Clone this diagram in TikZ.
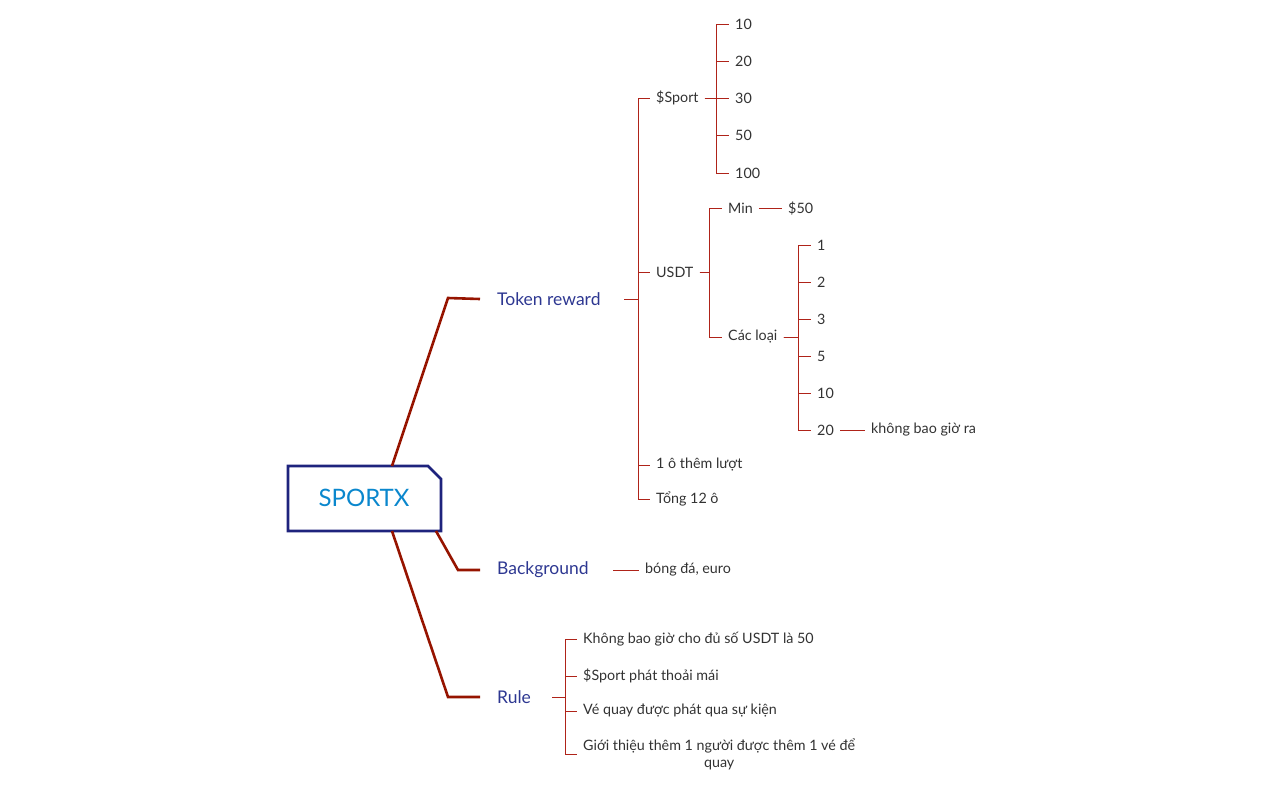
\documentclass[tikz,border=0pt]{standalone}
\usepackage{fontspec}
\setmainfont{Lato}
\definecolor{navy}{RGB}{30,35,125}
\definecolor{topic}{RGB}{45,55,145}
\definecolor{sky}{RGB}{10,135,205}
\definecolor{branch}{RGB}{150,20,0}
\definecolor{twig}{RGB}{175,35,25}
\definecolor{leaftext}{RGB}{50,50,50}
\begin{document}
\begin{tikzpicture}[x=1pt,y=-1pt,
	main/.style={anchor=west,inner sep=0pt,text=topic,font=\fontsize{17.5}{19}\selectfont},
	leaf/.style={anchor=west,inner xsep=6pt,inner ysep=2pt,text=leaftext,font=\fontsize{14.3}{17}\selectfont},
	thick branch/.style={draw=branch,line width=2.6pt},
	twig line/.style={draw=twig,line width=0.9pt}]
	\useasboundingbox (0,0) rectangle (1273,788);
	% root
	\draw[navy,line width=2.6pt] (288,466) -- (428,466) -- (441,479) -- (441,531) -- (288,531) -- cycle;
	\node[text=sky,font=\fontsize{24}{26}\selectfont] (root) at (364,498) {SPORTX};
	\coordinate (rtop) at (392,466);
	\coordinate (rbr) at (436,531);
	\coordinate (rbot) at (392,531);
	% main topics
	\node[main] (tok) at (497,299) {Token reward};
	\node[main] (bg) at (497,570) {Background};
	\node[main] (rule) at (497,697) {Rule};
	\draw[thick branch] (rtop) -- (448,298) -- ([xshift=-17]tok.west);
	\draw[thick branch] (rbr) -- (458,570) -- ([xshift=-17]bg.west);
	\draw[thick branch] (rbot) -- (448,697) -- ([xshift=-17]rule.west);
	% Token reward
	\coordinate (tokstub) at (624,299);
	\coordinate (tokbus) at (638,299);
	\node[leaf] (sp) at (650,98) {\$Sport};
	\node[leaf] (usdt) at (650,272) {USDT};
	\node[leaf] (extra) at (650,465) {1 ô thêm lượt};
	\node[leaf] (total) at (650,499) {Tổng 12 ô};
	\foreach \c in {sp,usdt,extra,total}
		\draw[twig line] (tokstub) -- (tokbus) |- (\c.west);
	\coordinate (spbus) at (716,98);
	\foreach \v [count=\i] in {10,20,30,50,100}
		\node[leaf] (s\i) at (729,24+37.25*\i-37.25) {\v};
	\foreach \i in {1,...,5}
		\draw[twig line] (sp.east) -- (spbus) |- (s\i.west);
	\coordinate (usdtbus) at (709,272);
	\node[leaf] (min) at (722,208) {Min};
	\node[leaf] (kinds) at (722,337) {Các loại};
	\foreach \c in {min,kinds}
		\draw[twig line] (usdt.east) -- (usdtbus) |- (\c.west);
	\node[leaf] (m50) at (782,208) {\$50};
	\draw[twig line] (min.east) -- (m50.west);
	\coordinate (kindbus) at (798,337);
	\foreach \v [count=\i] in {1,2,3,5,10,20}
		\node[leaf] (k\i) at (811,245+37*\i-37) {\v};
	\foreach \i in {1,...,6}
		\draw[twig line] (kinds.east) -- (kindbus) |- (k\i.west);
	\node[leaf] (never) at (865,430) {không bao giờ ra};
	\draw[twig line] (k6.east) -- (never.west);
	% Background
	\coordinate (bgstub) at (613,570);
	\node[leaf] (bgval) at (639,570) {bóng đá, euro};
	\draw[twig line] (bgstub) -- (bgval.west);
	% Rule
	\coordinate (rulestub) at (552,697);
	\coordinate (rulebus) at (565,697);
	\node[leaf] (r1) at (577,639) {Không bao giờ cho đủ số USDT là 50};
	\node[leaf] (r2) at (577,676) {\$Sport phát thoải mái};
	\node[leaf] (r3) at (577,711) {Vé quay được phát qua sự kiện};
	\node[leaf,align=center] (r4) at (577,754) {Giới thiệu thêm 1 người được thêm 1 vé để\\quay};
	\foreach \c in {r1,r2,r3,r4}
		\draw[twig line] (rulestub) -- (rulebus) |- (\c.west);
\end{tikzpicture}
\end{document}
